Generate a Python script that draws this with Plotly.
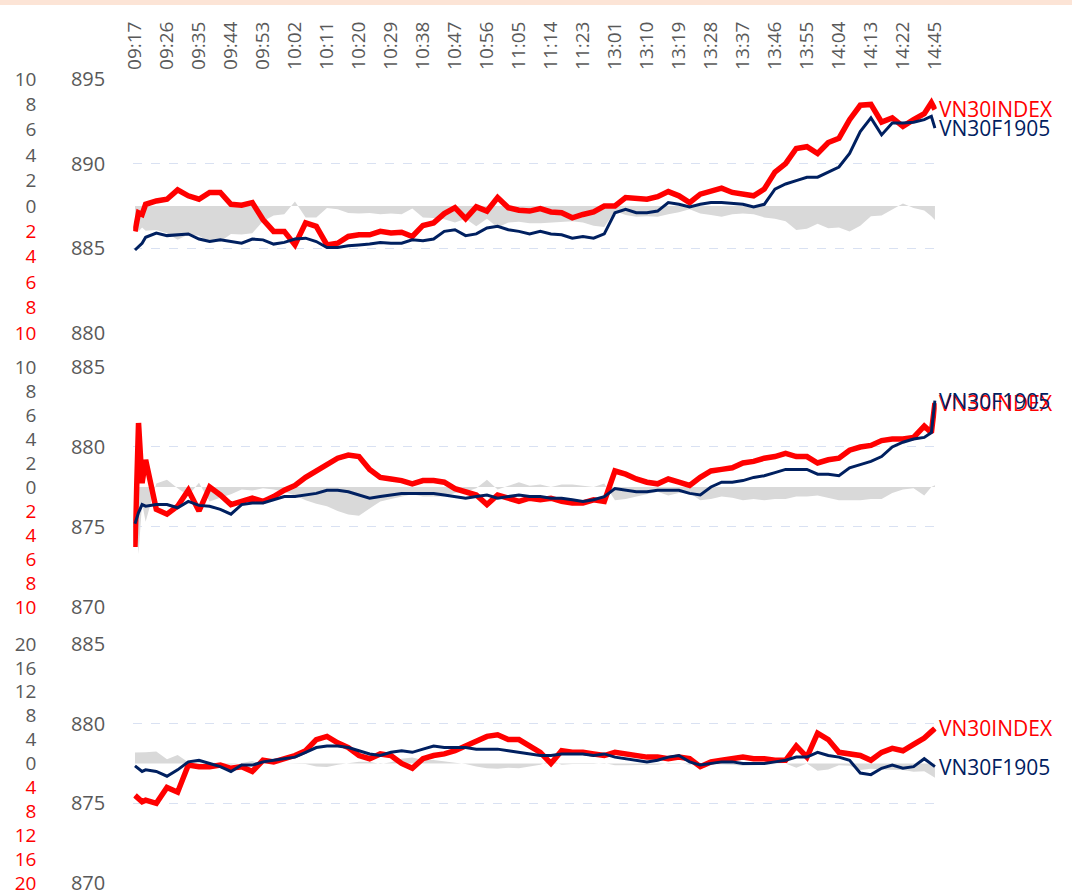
import plotly.graph_objects as go

# ---------------- categories (one per trading minute) ----------------
CATEGORIES = []
for h in range(9, 12):
    for m in range(60):
        t = h * 60 + m
        if 9 * 60 + 17 <= t <= 11 * 60 + 30:
            CATEGORIES.append(f"{h:02d}:{m:02d}")
for h in range(13, 15):
    for m in range(60):
        t = h * 60 + m
        if 13 * 60 <= t <= 14 * 60 + 30:
            CATEGORIES.append(f"{h:02d}:{m:02d}")
CATEGORIES.append("14:45")

TICK_LABELS = ["09:17", "09:26", "09:35", "09:44", "09:53", "10:02", "10:11", "10:20",
               "10:29", "10:38", "10:47", "10:56", "11:05", "11:14", "11:23", "13:01",
               "13:10", "13:19", "13:28", "13:37", "13:46", "13:55", "14:04", "14:13",
               "14:22", "14:45"]

# ---------------- sampled times ----------------
TIMES = ["09:17", "09:18", "09:19", "09:20", "09:23", "09:26", "09:29", "09:32", "09:35",
         "09:38", "09:41", "09:44", "09:47", "09:50", "09:53", "09:56", "09:59", "10:02",
         "10:05", "10:08", "10:11", "10:14", "10:17", "10:20", "10:23", "10:26", "10:29",
         "10:32", "10:35", "10:38", "10:41", "10:44", "10:47", "10:50", "10:53", "10:56",
         "10:59", "11:02", "11:05", "11:08", "11:11", "11:14", "11:17", "11:20", "11:23",
         "11:26", "11:29", "13:01", "13:04", "13:07", "13:10", "13:13", "13:16", "13:19",
         "13:22", "13:25", "13:28", "13:31", "13:34", "13:37", "13:40", "13:43", "13:46",
         "13:49", "13:52", "13:55", "13:58", "14:01", "14:04", "14:07", "14:10", "14:13",
         "14:16", "14:19", "14:22", "14:25", "14:28", "14:30", "14:45"]

# ---------------- panel 1 ----------------
INDEX_1 = [886.0, 887.1, 887.0, 887.6, 887.8, 887.9, 888.45, 888.1, 887.9, 888.3, 888.3,
           887.6, 887.55, 887.7, 886.7, 886.0, 886.0, 885.2, 886.5, 886.3, 885.2, 885.3,
           885.7, 885.8, 885.8, 886.0, 885.9, 885.95, 885.7, 886.35, 886.5, 887.05, 887.4,
           886.75, 887.45, 887.2, 888.0, 887.4, 887.25, 887.2, 887.35, 887.15, 887.1, 886.8,
           887.0, 887.15, 887.5, 887.5, 888.0, 887.95, 887.9, 888.05, 888.35, 888.1, 887.7,
           888.2, 888.4, 888.55, 888.3, 888.2, 888.1, 888.5, 889.5, 890.0, 890.9, 891.0,
           890.6, 891.25, 891.5, 892.6, 893.45, 893.5, 892.45, 892.7, 892.2, 892.6, 892.95,
           893.6, 893.2]
FUT_1 = [884.9, 885.1, 885.3, 885.65, 885.9, 885.75, 885.8, 885.85, 885.55, 885.4, 885.5,
         885.4, 885.3, 885.55, 885.5, 885.25, 885.35, 885.55, 885.6, 885.4, 885.05, 885.05,
         885.15, 885.2, 885.25, 885.35, 885.3, 885.3, 885.5, 885.45, 885.55, 886.0, 886.1,
         885.75, 885.85, 886.2, 886.3, 886.1, 886.0, 885.85, 886.0, 885.85, 885.8, 885.6,
         885.7, 885.6, 885.85, 887.1, 887.3, 887.1, 887.1, 887.2, 887.7, 887.6, 887.45,
         887.6, 887.7, 887.7, 887.65, 887.6, 887.45, 887.6, 888.5, 888.8, 889.0, 889.2,
         889.2, 889.5, 889.8, 890.6, 891.9, 892.7, 891.7, 892.4, 892.4, 892.45, 892.6,
         892.8, 892.1]

# ---------------- panel 2 ----------------
INDEX_2 = [873.75, 881.5, 877.75, 879.2, 876.1, 875.8, 876.3, 877.3, 876.0, 877.5, 877.0,
           876.4, 876.6, 876.8, 876.6, 876.9, 877.3, 877.6, 878.1, 878.5, 878.9, 879.3,
           879.5, 879.4, 878.6, 878.1, 878.0, 877.9, 877.7, 877.9, 877.9, 877.8, 877.4,
           877.2, 877.0, 876.4, 877.0, 876.8, 876.6, 876.8, 876.7, 876.8, 876.6, 876.5,
           876.5, 876.7, 876.6, 878.5, 878.3, 878.0, 877.8, 877.7, 878.0, 877.8, 877.6,
           878.1, 878.5, 878.6, 878.7, 879.0, 879.1, 879.3, 879.4, 879.6, 879.4, 879.4,
           879.0, 879.2, 879.3, 879.8, 880.0, 880.1, 880.4, 880.5, 880.5, 880.6, 881.3,
           880.9, 882.75]
FUT_2 = [875.2, 875.9, 876.4, 876.3, 876.4, 876.4, 876.2, 876.6, 876.35, 876.3, 876.1,
         875.8, 876.4, 876.5, 876.5, 876.7, 876.9, 876.9, 877.0, 877.1, 877.3, 877.3,
         877.2, 877.0, 876.8, 876.9, 877.0, 877.1, 877.1, 877.1, 877.1, 877.0, 876.9,
         876.8, 876.9, 877.0, 876.8, 876.9, 877.0, 876.9, 876.9, 876.8, 876.8, 876.7,
         876.6, 876.7, 876.9, 877.4, 877.3, 877.2, 877.2, 877.3, 877.3, 877.3, 877.1,
         877.0, 877.5, 877.8, 877.8, 877.9, 878.1, 878.2, 878.4, 878.6, 878.6, 878.6,
         878.3, 878.3, 878.2, 878.7, 878.9, 879.1, 879.4, 880.0, 880.3, 880.5, 880.6,
         880.9, 882.9]

# ---------------- panel 3 ----------------
INDEX_3 = [875.5, 875.3, 875.1, 875.2, 875.0, 876.0, 875.7, 877.4, 877.3, 877.3, 877.4,
           877.2, 877.3, 877.0, 877.7, 877.6, 877.8, 878.0, 878.3, 879.0, 879.2, 878.8,
           878.5, 878.0, 877.8, 878.1, 878.0, 877.5, 877.2, 877.8, 878.0, 878.1, 878.3,
           878.6, 878.9, 879.2, 879.3, 879.0, 879.0, 878.6, 878.2, 877.5, 878.3, 878.2,
           878.2, 878.1, 878.0, 878.2, 878.1, 878.0, 877.9, 877.9, 877.8, 877.9, 877.8,
           877.3, 877.6, 877.7, 877.8, 877.9, 877.8, 877.8, 877.7, 877.7, 878.6, 877.9,
           879.4, 879.0, 878.2, 878.1, 878.0, 877.7, 878.2, 878.45, 878.3, 878.7, 879.1,
           879.5, 879.7]
FUT_3 = [877.35, 877.2, 877.0, 877.1, 877.0, 876.7, 877.1, 877.6, 877.7, 877.5, 877.3,
         877.0, 877.4, 877.4, 877.6, 877.7, 877.8, 877.9, 878.2, 878.5, 878.6, 878.6,
         878.5, 878.3, 878.1, 878.0, 878.2, 878.3, 878.2, 878.4, 878.6, 878.5, 878.5,
         878.5, 878.4, 878.4, 878.4, 878.3, 878.2, 878.1, 878.0, 878.0, 878.1, 878.1,
         878.1, 878.0, 878.1, 877.9, 877.8, 877.7, 877.6, 877.7, 877.9, 878.0, 877.6,
         877.4, 877.5, 877.6, 877.6, 877.5, 877.5, 877.5, 877.6, 877.7, 877.9, 877.9,
         878.2, 878.0, 877.9, 877.7, 876.9, 876.8, 877.2, 877.4, 877.2, 877.3, 877.8,
         877.5, 877.3]

PANELS = [
    dict(index=INDEX_1, fut=FUT_1, price_range=[880, 895], price_ticks=[880, 885, 890, 895],
         diff_max=10, diff_step=2, domain=[0.6841, 1.0]),
    dict(index=INDEX_2, fut=FUT_2, price_range=[870, 885], price_ticks=[870, 875, 880, 885],
         diff_max=10, diff_step=2, domain=[0.3433, 0.6418]),
    dict(index=INDEX_3, fut=FUT_3, price_range=[870, 885], price_ticks=[870, 875, 880, 885],
         diff_max=20, diff_step=4, domain=[0.0, 0.2973]),
]

FONT = "Open Sans"
GRAY_TXT = "#595959"
RED = "#FF0000"
NAVY = "#002060"
X_FONT_SIZE = 19
Y_FONT_SIZE = 20
D_FONT_SIZE = 19
LABEL_SIZE = 21

fig = go.Figure()
layout = dict(
    width=1072, height=892, autosize=False,
    margin=dict(l=0, r=0, t=79, b=9, pad=0, autoexpand=False),
    paper_bgcolor="white", plot_bgcolor="white",
    showlegend=False,
    font=dict(family=FONT, size=Y_FONT_SIZE, color=GRAY_TXT),
    xaxis=dict(type="category", categoryorder="array", categoryarray=CATEGORIES,
               range=[-0.5, len(CATEGORIES) - 0.5], domain=[0.12425, 0.87379],
               side="top", anchor="y", tickmode="array", tickvals=TICK_LABELS,
               ticktext=TICK_LABELS, tickangle=-90, showgrid=False, showline=False,
               ticks="", zeroline=False, ticklabelstandoff=8, automargin=False,
               ticklabeloverflow="allow",
               tickfont=dict(family=FONT, size=X_FONT_SIZE, color=GRAY_TXT)),
)
annotations = []

for i, p in enumerate(PANELS):
    dn = 2 * i + 1          # diff axis number
    pn = 2 * i + 2          # price axis number
    dkey = "yaxis" if dn == 1 else f"yaxis{dn}"
    pkey = f"yaxis{pn}"
    dref = "y" if dn == 1 else f"y{dn}"
    pref = f"y{pn}"

    dm, ds = p["diff_max"], p["diff_step"]
    dvals = list(range(-dm, dm + 1, ds))
    dtext = [f'<span style="color:{RED}">{abs(v)}</span>' if v < 0 else str(v) for v in dvals]

    layout[dkey] = dict(domain=p["domain"], range=[-dm, dm], anchor="free", position=0.034,
                        side="left", tickmode="array", tickvals=dvals, ticktext=dtext,
                        showgrid=False, zeroline=False, showline=False, ticks="",
                        ticklabelstandoff=0, automargin=False, ticklabeloverflow="allow",
                        tickfont=dict(family=FONT, size=D_FONT_SIZE, color=GRAY_TXT))
    layout[pkey] = dict(overlaying=dref, anchor="x", side="left", range=p["price_range"],
                        tickmode="array", tickvals=p["price_ticks"],
                        showgrid=True, gridcolor="#D9E1F2", griddash="dash", gridwidth=1,
                        zeroline=False, showline=False, ticks="", ticklabelstandoff=27,
                        automargin=False, ticklabeloverflow="allow",
                        tickfont=dict(family=FONT, size=Y_FONT_SIZE, color=GRAY_TXT))

    basis = [f - x for f, x in zip(p["fut"], p["index"])]
    fig.add_trace(go.Scatter(x=TIMES, y=basis, xaxis="x", yaxis=dref, mode="lines",
                             line=dict(width=0, color="#D9D9D9"), fill="tozeroy",
                             fillcolor="#D9D9D9", hoverinfo="skip"))
    fig.add_trace(go.Scatter(x=TIMES, y=p["index"], xaxis="x", yaxis=pref, mode="lines",
                             name="VN30INDEX", line=dict(color=RED, width=5.5)))
    fig.add_trace(go.Scatter(x=TIMES, y=p["fut"], xaxis="x", yaxis=pref, mode="lines",
                             name="VN30F1905", line=dict(color=NAVY, width=3)))

    annotations.append(dict(x=TIMES[-1], y=p["index"][-1], xref="x", yref=pref,
                            text="VN30INDEX", showarrow=False, xanchor="left",
                            yanchor="middle", xshift=2,
                            font=dict(family=FONT, size=LABEL_SIZE, color=RED)))
    annotations.append(dict(x=TIMES[-1], y=p["fut"][-1], xref="x", yref=pref,
                            text="VN30F1905", showarrow=False, xanchor="left",
                            yanchor="middle", xshift=2,
                            font=dict(family=FONT, size=LABEL_SIZE, color=NAVY)))

layout["annotations"] = annotations
layout["shapes"] = [dict(type="rect", xref="paper", yref="paper", x0=0, x1=1,
                         y0=1.0920, y1=1.0990, fillcolor="#FCE4D6", line=dict(width=0),
                         layer="below")]
fig.update_layout(**layout)
fig.write_html("out.html", config={"displayModeBar": False},
               post_script="document.body.style.margin='0';document.body.style.overflow='hidden';")
